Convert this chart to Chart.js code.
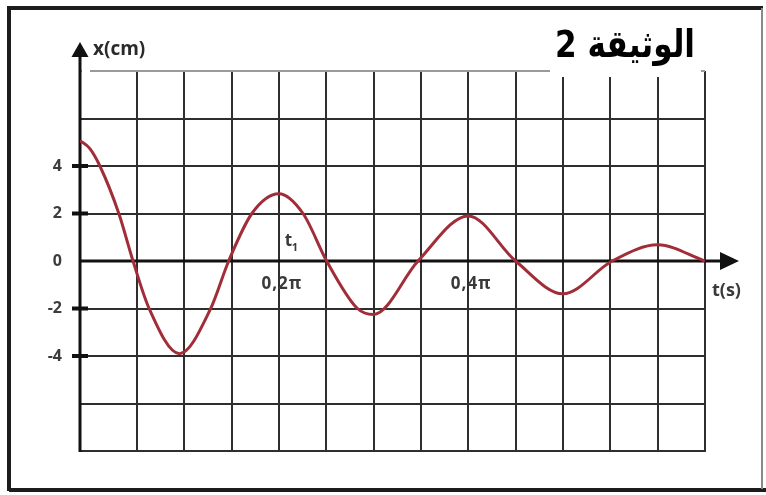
<!DOCTYPE html>
<html>
<head>
<meta charset="utf-8">
<script src="https://cdn.jsdelivr.net/npm/chart.js@4/dist/chart.umd.min.js"></script>
<style>
  html, body { margin: 0; padding: 0; background: #fff; }
  #wrap { width: 766px; height: 495px; position: relative; }
</style>
</head>
<body>
<div id="wrap"><canvas id="c" width="766" height="495"></canvas></div>
<script>
// Damped oscillation x(t): time in multiples of π seconds, elongation in cm
const timeValues = [-0.01, 0.0, 0.011, 0.031, 0.046, 0.063, 0.095, 0.128, 0.147, 0.1715, 0.2, 0.2255, 0.2505, 0.283, 0.3, 0.347, 0.4, 0.45, 0.5, 0.552, 0.6, 0.65];
const elongation = [5.07, 4.75, 4, 2, 0, -2, -3.9, -2, 0, 2, 2.83, 2, 0, -2, -2.25, 0, 1.9, 0, -1.38, 0, 0.68, 0];

// Grid columns (multiples of π s) and labelled instants on the time axis
const gridTimes = [0.05, 0.1, 0.15, 0.2, 0.25, 0.3, 0.35, 0.4, 0.45, 0.5, 0.55, 0.6, 0.65];
const timeLabelValues = [0.2, 0.4];
const timeLabelTexts = ['0,2π', '0,4π'];

// Labelled values on the elongation axis
const yLabelValues = [4, 2, 0, -2, -4];
const yMarkValues = [4, 2, -2, -4];

const titleText = 'الوثيقة 2';
const yAxisTitle = 'x(cm)';
const xAxisTitle = 't(s)';
const markedInstant = { value: 0.2, text: 't', sub: '1' };

const decor = {
  id: 'decor',
  beforeDraw(chart) {
    const { ctx, width, height } = chart;
    ctx.save();
    ctx.fillStyle = '#fff';
    ctx.fillRect(0, 0, width, height);
    // outer frame
    ctx.strokeStyle = '#1c1c1c';
    ctx.lineWidth = 4;
    ctx.beginPath();
    ctx.moveTo(9, 491); ctx.lineTo(9, 8); ctx.lineTo(763, 8);
    ctx.stroke();
    ctx.beginPath();
    ctx.moveTo(9, 490); ctx.lineTo(766, 490);
    ctx.stroke();
    ctx.strokeStyle = '#8a8a8a';
    ctx.lineWidth = 2;
    ctx.beginPath();
    ctx.moveTo(762, 8); ctx.lineTo(762, 489);
    ctx.stroke();
    ctx.restore();
  },
  beforeDatasetsDraw(chart) {
    const { ctx, chartArea, scales: { y } } = chart;
    const x0 = chartArea.left;
    const y0 = y.getPixelForValue(0);
    ctx.save();
    // keep the top grid row clear of the vertical axis
    ctx.fillStyle = '#fff';
    ctx.fillRect(x0 + 2, chartArea.top - 2, 8, 4);
    ctx.strokeStyle = '#111';
    ctx.fillStyle = '#111';
    ctx.lineWidth = 3;
    // vertical axis with arrow
    ctx.beginPath();
    ctx.moveTo(x0, chartArea.bottom + 1); ctx.lineTo(x0, 54);
    ctx.stroke();
    ctx.beginPath();
    ctx.moveTo(x0, 42); ctx.lineTo(x0 - 8.5, 57); ctx.lineTo(x0 + 8.5, 57); ctx.closePath();
    ctx.fill();
    // time axis with arrow
    ctx.beginPath();
    ctx.moveTo(x0, y0); ctx.lineTo(724, y0);
    ctx.stroke();
    ctx.beginPath();
    ctx.moveTo(739, y0); ctx.lineTo(720, y0 - 9); ctx.lineTo(720, y0 + 9); ctx.closePath();
    ctx.fill();
    // tick marks on the vertical axis
    ctx.lineWidth = 4;
    yMarkValues.forEach(v => {
      const py = y.getPixelForValue(v);
      ctx.beginPath();
      ctx.moveTo(x0 - 8, py); ctx.lineTo(x0 + 8, py);
      ctx.stroke();
    });
    ctx.restore();
  },
  afterDraw(chart) {
    const { ctx, scales: { x, y } } = chart;
    const y0 = y.getPixelForValue(0);
    ctx.save();
    ctx.textBaseline = 'middle';

    // axis names
    ctx.fillStyle = '#2a2a2a';
    ctx.textAlign = 'left';
    ctx.font = 'bold 19px "Open Sans", sans-serif';
    ctx.fillText(yAxisTitle, 93, 50);
    ctx.fillStyle = '#3a3a3a';
    ctx.font = 'bold 18px "Open Sans", sans-serif';
    ctx.fillText(xAxisTitle, 712, y0 + 30);

    // labelled instants
    ctx.textAlign = 'center';
    ctx.font = 'bold 17px "Open Sans", sans-serif';
    ctx.fillStyle = '#3a3a3a';
    if ('letterSpacing' in ctx) ctx.letterSpacing = '1px';
    timeLabelValues.forEach((v, i) => {
      ctx.fillText(timeLabelTexts[i], x.getPixelForValue(v) + 3, y0 + 23);
    });
    if ('letterSpacing' in ctx) ctx.letterSpacing = '0px';

    // t1 marker
    const px = x.getPixelForValue(markedInstant.value);
    ctx.textAlign = 'left';
    ctx.font = 'bold 17px "Open Sans", sans-serif';
    ctx.fillText(markedInstant.text, px + 6, y0 - 20);
    ctx.font = 'bold 11px "Open Sans", sans-serif';
    ctx.fillText(markedInstant.sub, px + 13, y0 - 13);

    // document title on a white patch
    ctx.fillStyle = '#fff';
    ctx.fillRect(550, 14, 151, 63);
    ctx.fillStyle = '#000';
    ctx.font = 'bold 38px "DejaVu Sans Condensed", "DejaVu Sans", sans-serif';
    ctx.direction = 'rtl';
    ctx.textAlign = 'right';
    ctx.textBaseline = 'alphabetic';
    const w = ctx.measureText(titleText).width;
    ctx.translate(695, 57);
    ctx.scale(140 / w, 1);
    ctx.fillText(titleText, 0, 0);
    ctx.restore();
  }
};

new Chart(document.getElementById('c'), {
  type: 'line',
  data: {
    datasets: [{
      data: timeValues.map((t, i) => ({ x: t, y: elongation[i] })),
      borderColor: '#a12d39',
      borderWidth: 3,
      pointRadius: 0,
      fill: false,
      cubicInterpolationMode: 'monotone'
    }]
  },
  options: {
    responsive: false,
    animation: false,
    devicePixelRatio: 1,
    layout: { padding: { top: 71, right: 61, bottom: 44, left: 0 } },
    plugins: { legend: { display: false }, tooltip: { enabled: false }, title: { display: false } },
    scales: {
      x: {
        type: 'linear',
        min: -0.01,
        max: 0.65,
        afterBuildTicks: s => { s.ticks = gridTimes.map(v => ({ value: v })); },
        afterFit: s => { s.height = 0; },
        ticks: { display: false },
        grid: { color: '#2e2e2e', lineWidth: 2, drawTicks: false },
        border: { display: true, color: '#2e2e2e', width: 2 }
      },
      y: {
        min: -8,
        max: 8,
        afterFit: s => { s.width = 80; },
        ticks: {
          stepSize: 2,
          padding: 10,
          color: '#3c3c3c',
          font: { family: '"Open Sans", sans-serif', size: 16, weight: 'bold' },
          callback: v => (yLabelValues.includes(v) ? String(v) : '')
        },
        grid: {
          color: c => (c.tick && c.tick.value === 8 ? '#9a9a9a' : '#2e2e2e'),
          lineWidth: 2,
          drawTicks: true,
          tickLength: 8,
          tickColor: 'rgba(0,0,0,0)'
        },
        border: { display: false }
      }
    }
  },
  plugins: [decor]
});
</script>
</body>
</html>
